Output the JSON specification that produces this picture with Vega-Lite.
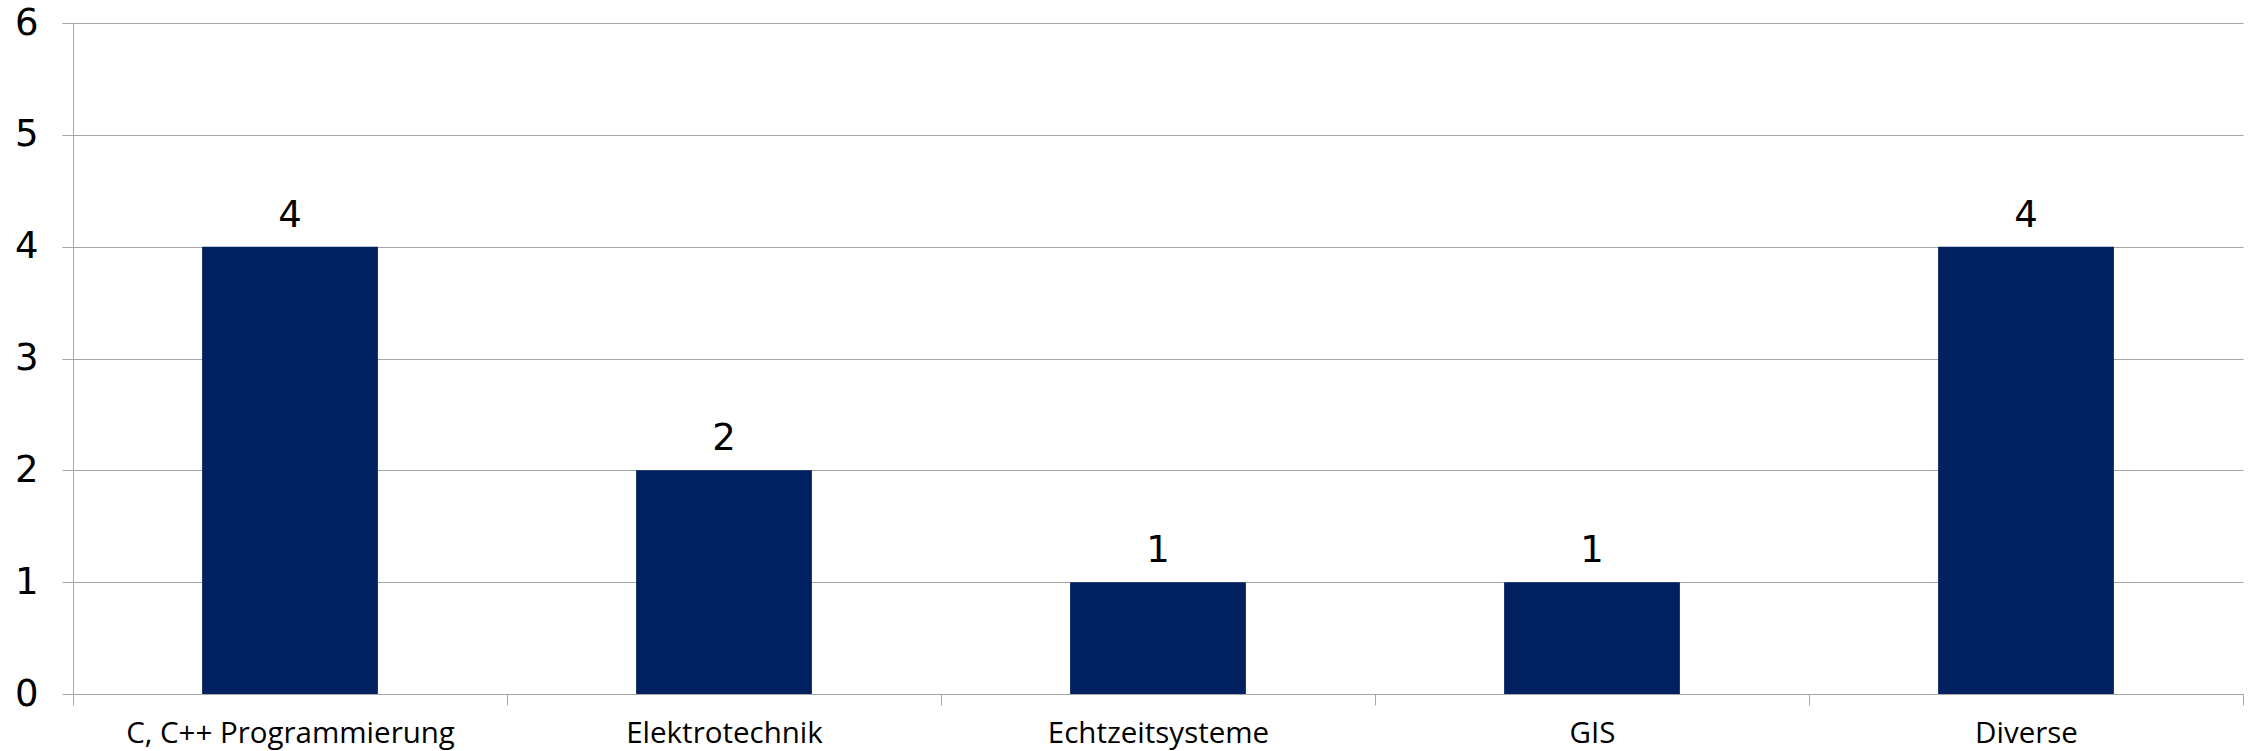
{
  "$schema": "https://vega.github.io/schema/vega-lite/v6.json",
  "width": 2170,
  "height": 671,
  "autosize": {"type": "none"},
  "padding": {"left": 73, "top": 23, "right": 9, "bottom": 57},
  "background": "white",
  "config": {"view": {"stroke": null}},
  "data": {"values": [
    {"kategorie": "C, C++ Programmierung", "anzahl": 4},
    {"kategorie": "Elektrotechnik", "anzahl": 2},
    {"kategorie": "Echtzeitsysteme", "anzahl": 1},
    {"kategorie": "GIS", "anzahl": 1},
    {"kategorie": "Diverse", "anzahl": 4}
  ]},
  "encoding": {
    "x": {
      "field": "kategorie", "type": "nominal", "sort": null,
      "scale": {"paddingInner": 0, "paddingOuter": 0},
      "axis": {
        "title": null, "labelAngle": 0, "tickBand": "extent", "labelLimit": 0,
        "domainColor": "#a6a6a6", "tickColor": "#a6a6a6", "tickSize": 11,
        "labelFont": "Open Sans", "labelFontSize": 29.5, "labelColor": "#000000",
        "labelPadding": 14, "grid": false
      }
    },
    "y": {
      "field": "anzahl", "type": "quantitative",
      "scale": {"domain": [0, 6]},
      "axis": {
        "title": null, "values": [0, 1, 2, 3, 4, 5, 6],
        "domainColor": "#a6a6a6", "tickColor": "#a6a6a6", "tickSize": 11,
        "gridColor": "#a6a6a6", "grid": true,
        "labelFont": "DejaVu Sans", "labelFontSize": 37, "labelColor": "#000000",
        "labelPadding": 24
      }
    }
  },
  "layer": [
    {"mark": {"type": "bar", "color": "#002060", "width": {"band": 0.405}}},
    {
      "mark": {"type": "text", "font": "DejaVu Sans", "fontSize": 37, "color": "#000000", "baseline": "bottom", "dy": -12},
      "encoding": {"text": {"field": "anzahl", "type": "quantitative"}}
    }
  ]
}
